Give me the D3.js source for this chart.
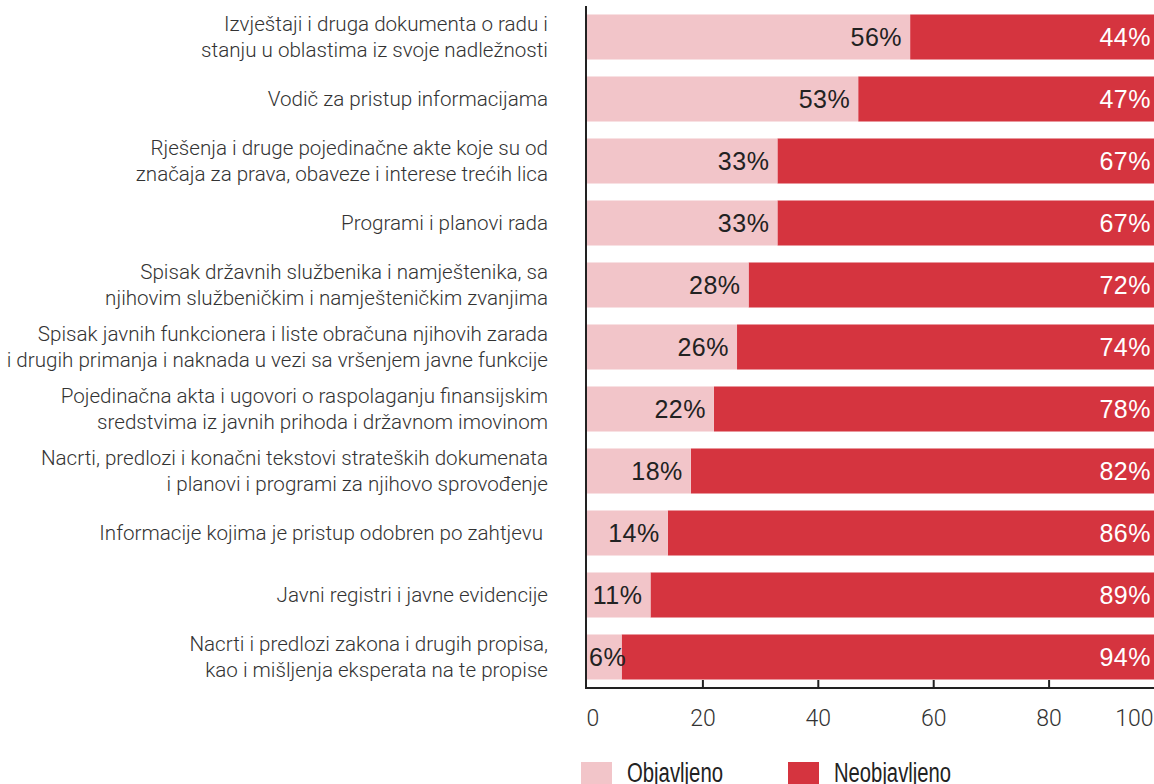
<!DOCTYPE html>
<html>
<head>
<meta charset="utf-8">
<script src="https://cdn.jsdelivr.net/npm/d3@7"></script>
<style>
  html, body { margin: 0; padding: 0; background: #fff; }
  svg { display: block; }
</style>
</head>
<body>
<svg id="chart" width="1154" height="784"></svg>
<script>
const categories = [
  ["Izvještaji i druga dokumenta o radu i", "stanju u oblastima iz svoje nadležnosti"],
  ["Vodič za pristup informacijama"],
  ["Rješenja i druge pojedinačne akte koje su od", "značaja za prava, obaveze i interese trećih lica"],
  ["Programi i planovi rada"],
  ["Spisak državnih službenika i namještenika, sa", "njihovim službeničkim i namješteničkim zvanjima"],
  ["Spisak javnih funkcionera i liste obračuna njihovih zarada", "i drugih primanja i naknada u vezi sa vršenjem javne funkcije"],
  ["Pojedinačna akta i ugovori o raspolaganju finansijskim", "sredstvima iz javnih prihoda i državnom imovinom"],
  ["Nacrti, predlozi i konačni tekstovi strateških dokumenata", "i planovi i programi za njihovo sprovođenje"],
  ["Informacije kojima je pristup odobren po zahtjevu "],
  ["Javni registri i javne evidencije"],
  ["Nacrti i predlozi zakona i drugih propisa,", "kao i mišljenja eksperata na te propise"]
];
// bar lengths as drawn in the picture
const publishedBar = [56, 47, 33, 33, 28, 26, 22, 18, 14, 11, 6];
// labels as printed in the picture
const publishedLabels = ["56%", "53%", "33%", "33%", "28%", "26%", "22%", "18%", "14%", "11%", "6%"];
const unpublishedLabels = ["44%", "47%", "67%", "67%", "72%", "74%", "78%", "82%", "86%", "89%", "94%"];
const seriesNames = ["Objavljeno", "Neobjavljeno"];
const xTicks = [0, 20, 40, 60, 80, 100];

const colors = { pub: "#f2c5c9", unpub: "#d5343f" };

const svg = d3.select("#chart");
const idx = d3.range(categories.length);

const x = d3.scaleLinear().domain([0, 100]).range([587, 1164]);
const y = d3.scaleBand().domain(idx).range([6, 688]).paddingInner(0.274).paddingOuter(0.137);

// bars
const g = svg.append("g");
g.selectAll("rect.unpub").data(idx).join("rect")
  .attr("class", "unpub")
  .attr("x", i => x(publishedBar[i]))
  .attr("y", i => y(i))
  .attr("width", i => x(100) - x(publishedBar[i]))
  .attr("height", y.bandwidth())
  .attr("fill", colors.unpub);
g.selectAll("rect.pub").data(idx).join("rect")
  .attr("class", "pub")
  .attr("x", x(0))
  .attr("y", i => y(i))
  .attr("width", i => x(publishedBar[i]) - x(0))
  .attr("height", y.bandwidth())
  .attr("fill", colors.pub);

// value labels
const lblFont = "'Liberation Sans', Arial, sans-serif";
g.selectAll("text.publ").data(idx).join("text")
  .attr("class", "publ")
  .attr("x", i => x(publishedBar[i]) - 8)
  .attr("y", i => y(i) + y.bandwidth() / 2)
  .attr("dy", "0.35em")
  .attr("text-anchor", "end")
  .attr("font-family", lblFont)
  .attr("font-size", 25)
  .attr("letter-spacing", 0.5)
  .attr("fill", "#222")
  .text(i => publishedLabels[i])
  .each(function() {
    const bb = this.getBBox();
    if (bb.x < 590) {
      d3.select(this).attr("text-anchor", "start").attr("x", 589);
    }
  });
g.selectAll("text.unpubl").data(idx).join("text")
  .attr("class", "unpubl")
  .attr("x", 1151)
  .attr("y", i => y(i) + y.bandwidth() / 2)
  .attr("dy", "0.35em")
  .attr("text-anchor", "end")
  .attr("font-family", lblFont)
  .attr("font-size", 25)
  .attr("letter-spacing", 0.5)
  .attr("fill", "#fff")
  .text(i => unpublishedLabels[i]);

// category labels
const catFont = "Roboto, 'Liberation Sans', sans-serif";
const cat = svg.append("g");
idx.forEach(i => {
  const lines = categories[i];
  const cy = y(i) + y.bandwidth() / 2;
  const lh = 26;
  const t = cat.append("text")
    .attr("text-anchor", "end")
    .attr("font-family", catFont)
    .attr("font-weight", 300)
    .attr("font-size", 20.6)
    .attr("fill", "#333")
    .style("white-space", "pre");
  lines.forEach((ln, k) => {
    t.append("tspan")
      .attr("x", 548)
      .attr("y", cy + (k - (lines.length - 1) / 2) * lh)
      .attr("dy", "0.35em")
      .text(ln);
  });
});

// x axis
const xAxis = d3.axisBottom(x).tickValues(xTicks).tickSizeInner(-8).tickSizeOuter(0).tickFormat(d3.format("d"));
const xg = svg.append("g").attr("transform", "translate(0,688)").call(xAxis);
xg.select(".domain").attr("stroke", "#222").attr("stroke-width", 2).attr("d", "M585,0H1164");
xg.selectAll(".tick line").attr("stroke", "#222").attr("stroke-width", 2);
xg.selectAll(".tick text")
  .attr("y", 38).attr("dy", 0)
  .attr("font-family", catFont)
  .attr("font-weight", 300)
  .attr("font-size", 23)
  .attr("fill", "#333");
xg.selectAll(".tick text").filter(d => d === 0).attr("text-anchor", "start").attr("x", -1);
xg.selectAll(".tick text").filter(d => d === 100).attr("text-anchor", "end").attr("x", -11);
xg.selectAll(".tick").filter(d => d === 0).select("line").remove();

// y axis line
const yAxis = d3.axisLeft(y).tickSize(0).tickFormat("");
const yg = svg.append("g").attr("transform", "translate(586,0)").call(yAxis);
yg.select(".domain").attr("stroke", "#222").attr("stroke-width", 2).attr("d", "M0,6V689");

// legend
const legend = svg.append("g");
const legX = [581, 788];
const legW = [96, 117];
seriesNames.forEach((name, k) => {
  legend.append("rect")
    .attr("x", legX[k]).attr("y", 762)
    .attr("width", 31).attr("height", 24)
    .attr("fill", k === 0 ? colors.pub : colors.unpub);
  legend.append("text")
    .attr("x", legX[k] + 46).attr("y", 782)
    .attr("font-family", "'Liberation Sans', Arial, sans-serif")
    .attr("font-size", 27)
    .attr("textLength", legW[k])
    .attr("lengthAdjust", "spacingAndGlyphs")
    .attr("fill", "#222")
    .text(name);
});
</script>
</body>
</html>
